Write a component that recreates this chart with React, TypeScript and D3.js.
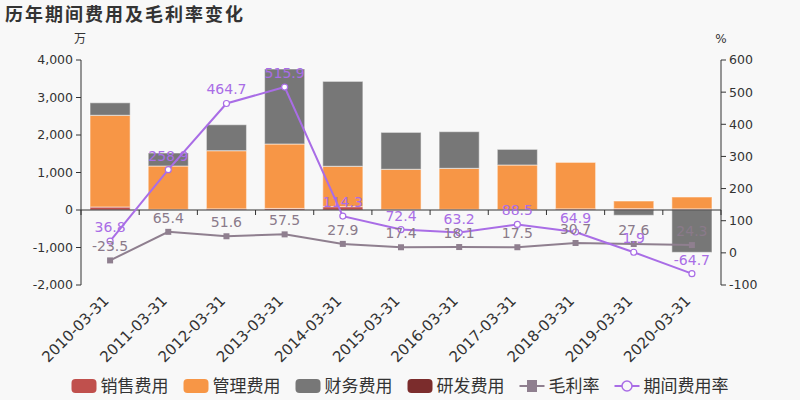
import React from "react";
import * as d3 from "d3";

const dates = ["2010-03-31","2011-03-31","2012-03-31","2013-03-31","2014-03-31","2015-03-31","2016-03-31","2017-03-31","2018-03-31","2019-03-31","2020-03-31"];
const sales = [80, 15, 30, 40, 90, 15, 15, 10, 30, 35, 30];
const mgmt = [2445, 1158, 1552, 1720, 1075, 1070, 1095, 1190, 1240, 205, 317];
const finance = [335, 347, 693, 2000, 2265, 985, 980, 417, 0, -142, -1130];
const rnd = [0, 0, 0, 0, 0, 0, 0, 0, 0, 0, 0];
const grossMargin = [-23.5, 65.4, 51.6, 57.5, 27.9, 17.4, 18.1, 17.5, 30.7, 27.6, 24.3];
const periodRate = [36.8, 258.9, 464.7, 515.9, 114.3, 72.4, 63.2, 88.5, 64.9, 1.9, -64.7];
const leftTicks = [-2000, -1000, 0, 1000, 2000, 3000, 4000];
const rightTicks = [-100, 0, 100, 200, 300, 400, 500, 600];

const seriesNames = ["销售费用", "管理费用", "财务费用", "研发费用"];
const seriesColors = ["#c0504d", "#f79646", "#777777", "#7b2c2c"];
const grossColor = "#8f7f8f";
const periodColor = "#a96de6";
const axisColor = "#333";
const font = "'DejaVu Sans', sans-serif";
const cjk = "'Noto Sans CJK SC', sans-serif";

const W = 800, H = 400;
const X0 = 81, X1 = 721, YT = 60, YB = 285;

export default function App() {
  const x = d3.scaleBand<string>().domain(dates).range([X0, X1]).padding(0);
  const bw = x.bandwidth() * 0.69;
  const cx = (d: string) => (x(d) as number) + x.bandwidth() / 2;
  const yL = d3.scaleLinear().domain([-2000, 4000]).range([YB, YT]);
  const yR = d3.scaleLinear().domain([-100, 600]).range([YB, YT]);
  const loc = d3.formatLocale({ decimal: ".", thousands: ",", grouping: [3], currency: ["", ""], minus: "-" });
  const fmt = loc.format(",");

  const rows = dates.map((d, i) => ({ date: d, s0: sales[i], s1: mgmt[i], s2: finance[i], s3: rnd[i] }));
  const stack = d3.stack<any>().keys(["s0", "s1", "s2", "s3"]).offset(d3.stackOffsetDiverging);
  const stacked = stack(rows);

  const gLine = d3.line<number>().x((_, i) => cx(dates[i])).y(v => yR(v));

  const charW = 17;
  const items = [
    ...seriesNames.map((n, i) => ({ name: n, type: "bar", color: seriesColors[i] })),
    { name: "毛利率", type: "gross", color: grossColor },
    { name: "期间费用率", type: "period", color: periodColor },
  ];
  const widths = items.map(it => 25 + 4 + it.name.length * charW);
  const totalW = widths.reduce((a, b) => a + b, 0) + 15 * (items.length - 1);
  let lx = W / 2 - totalW / 2;
  const legendPos = widths.map(w => { const p = lx; lx += w + 15; return p; });

  return (
    <svg width={W} height={H} style={{ position: "absolute", left: 0, top: 0, background: "#f8f8f8" }}>
      <rect x={0} y={0} width={W} height={H} fill="#f8f8f8" />
      <text x={5} y={21} fontFamily={cjk} fontSize={18} fontWeight="bold" letterSpacing={2} fill="#333">历年期间费用及毛利率变化</text>
      <text x={80} y={43} fontFamily={cjk} fontSize={12} fill="#333" textAnchor="middle">万</text>
      <text x={721} y={43} fontFamily={font} fontSize={12} fill="#333" textAnchor="middle">%</text>

      {stacked.map((layer, li) => (
        <g key={li}>
          {layer.map((seg, i) => {
            const y0 = yL(seg[0]), y1 = yL(seg[1]);
            const h = Math.abs(y0 - y1);
            if (h < 0.01) return null;
            return (
              <rect key={i} x={cx(dates[i]) - bw / 2} y={Math.min(y0, y1)} width={bw} height={h}
                fill={seriesColors[li]} stroke="rgba(255,255,255,0.45)" strokeWidth={1.2} />
            );
          })}
        </g>
      ))}

      <line x1={X0} x2={X0} y1={YT} y2={YB} stroke={axisColor} />
      {leftTicks.map(t => (
        <g key={t}>
          <line x1={X0 - 5} x2={X0} y1={yL(t)} y2={yL(t)} stroke={axisColor} />
          <text x={X0 - 8} y={yL(t)} dy="0.35em" textAnchor="end" fontFamily={font} fontSize={12.5} fill="#333">{fmt(t)}</text>
        </g>
      ))}
      <line x1={X1} x2={X1} y1={YT} y2={YB} stroke={axisColor} />
      {rightTicks.map(t => (
        <g key={t}>
          <line x1={X1} x2={X1 + 5} y1={yR(t)} y2={yR(t)} stroke={axisColor} />
          <text x={X1 + 8} y={yR(t)} dy="0.35em" textAnchor="start" fontFamily={font} fontSize={12.5} fill="#333">{fmt(t)}</text>
        </g>
      ))}
      <line x1={X0} x2={X1} y1={yL(0)} y2={yL(0)} stroke={axisColor} />
      {[...dates.map(d => x(d) as number), X1].map((tx, i) => (
        <line key={i} x1={tx} x2={tx} y1={yL(0)} y2={yL(0) + 5} stroke={axisColor} />
      ))}
      {dates.map(d => (
        <text key={d} transform={`translate(${cx(d) - 4},${298}) rotate(-45)`} textAnchor="end" dy="0.35em"
          fontFamily={font} fontSize={15} fill="#333">{d}</text>
      ))}

      <path d={gLine(grossMargin) as string} fill="none" stroke={grossColor} strokeWidth={2} />
      {grossMargin.map((v, i) => (
        <rect key={i} x={cx(dates[i]) - 3} y={yR(v) - 3} width={6} height={6} fill={grossColor} />
      ))}
      <path d={gLine(periodRate) as string} fill="none" stroke={periodColor} strokeWidth={2} />
      {periodRate.map((v, i) => (
        <circle key={i} cx={cx(dates[i])} cy={yR(v)} r={3} fill="#fff" stroke={periodColor} strokeWidth={1.2} />
      ))}
      {grossMargin.map((v, i) => (
        <text key={i} x={cx(dates[i])} y={yR(v) - 9} textAnchor="middle" fontFamily={font} fontSize={14} fill="#8a7a8a">{v.toFixed(1)}</text>
      ))}
      {periodRate.map((v, i) => (
        <text key={i} x={cx(dates[i])} y={yR(v) - 9} textAnchor="middle" fontFamily={font} fontSize={14} fill={periodColor}>{v.toFixed(1)}</text>
      ))}

      {items.map((it, i) => {
        const px = legendPos[i];
        return (
          <g key={it.name}>
            {it.type === "bar" ? (
              <rect x={px} y={379} width={25} height={14} rx={4} fill={it.color} />
            ) : (
              <g>
                <line x1={px} x2={px + 25} y1={386} y2={386} stroke={it.color} strokeWidth={2} />
                {it.type === "gross" ? (
                  <rect x={px + 7.5} y={380} width={10} height={12} fill={it.color} />
                ) : (
                  <circle cx={px + 12.5} cy={386} r={5} fill="#f8f8f8" stroke={it.color} strokeWidth={1.5} />
                )}
              </g>
            )}
            <text x={px + 29} y={392} fontFamily={cjk} fontSize={17} fill="#333">{it.name}</text>
          </g>
        );
      })}
    </svg>
  );
}
